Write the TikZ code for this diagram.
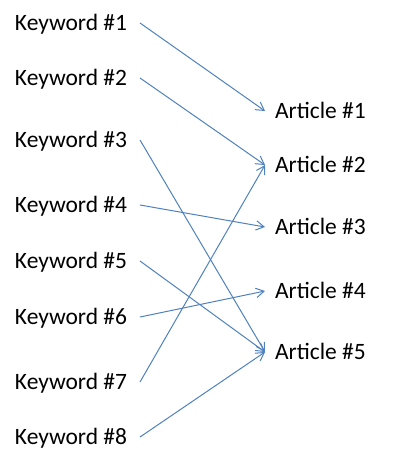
\documentclass[tikz,border=0pt]{standalone}
\usepackage{fontspec}
\setmainfont{Carlito}
\usepackage{tikz}
\usetikzlibrary{arrows.meta, positioning}
\definecolor{linkblue}{HTML}{4F81BD}

\begin{document}
\begin{tikzpicture}[
  x=0.75pt, y=-0.75pt,
  kw/.style={anchor=west, inner sep=0pt, outer ysep=0pt, outer xsep=9.75pt,
             text height=11.1pt, text depth=0pt,
             font=\fontsize{17.6}{21}\selectfont},
  art/.style={anchor=west, inner sep=0pt, outer ysep=0pt, outer xsep=7.5pt,
              text height=11.1pt, text depth=0pt,
              font=\fontsize{17.6}{21}\selectfont},
  arr/.style={-{Straight Barb[length=6pt, width=7pt]}, linkblue, line width=0.75pt}
]
\useasboundingbox (0,0) rectangle (401,465);
\node[kw] (kw1) at (2,23)  {Keyword \#1};
\node[kw] (kw2) at (2,78)  {Keyword \#2};
\node[kw] (kw3) at (2,140) {Keyword \#3};
\node[kw] (kw4) at (2,205) {Keyword \#4};
\node[kw] (kw5) at (2,261) {Keyword \#5};
\node[kw] (kw6) at (2,317) {Keyword \#6};
\node[kw] (kw7) at (2,382) {Keyword \#7};
\node[kw] (kw8) at (2,437) {Keyword \#8};

\node[art] (art1) at (265,111) {Article \#1};
\node[art] (art2) at (265,165) {Article \#2};
\node[art] (art3) at (265,227) {Article \#3};
\node[art] (art4) at (265,291) {Article \#4};
\node[art] (art5) at (265,352) {Article \#5};

\draw[arr] (kw1.east) -- (art1.west);
\draw[arr] (kw2.east) -- (art2.west);
\draw[arr] (kw3.east) -- (art5.west);
\draw[arr] (kw4.east) -- (art3.west);
\draw[arr] (kw5.east) -- (art5.west);
\draw[arr] (kw6.east) -- (art4.west);
\draw[arr] (kw7.east) -- (art2.west);
\draw[arr] (kw8.east) -- (art5.west);
\end{tikzpicture}
\end{document}
